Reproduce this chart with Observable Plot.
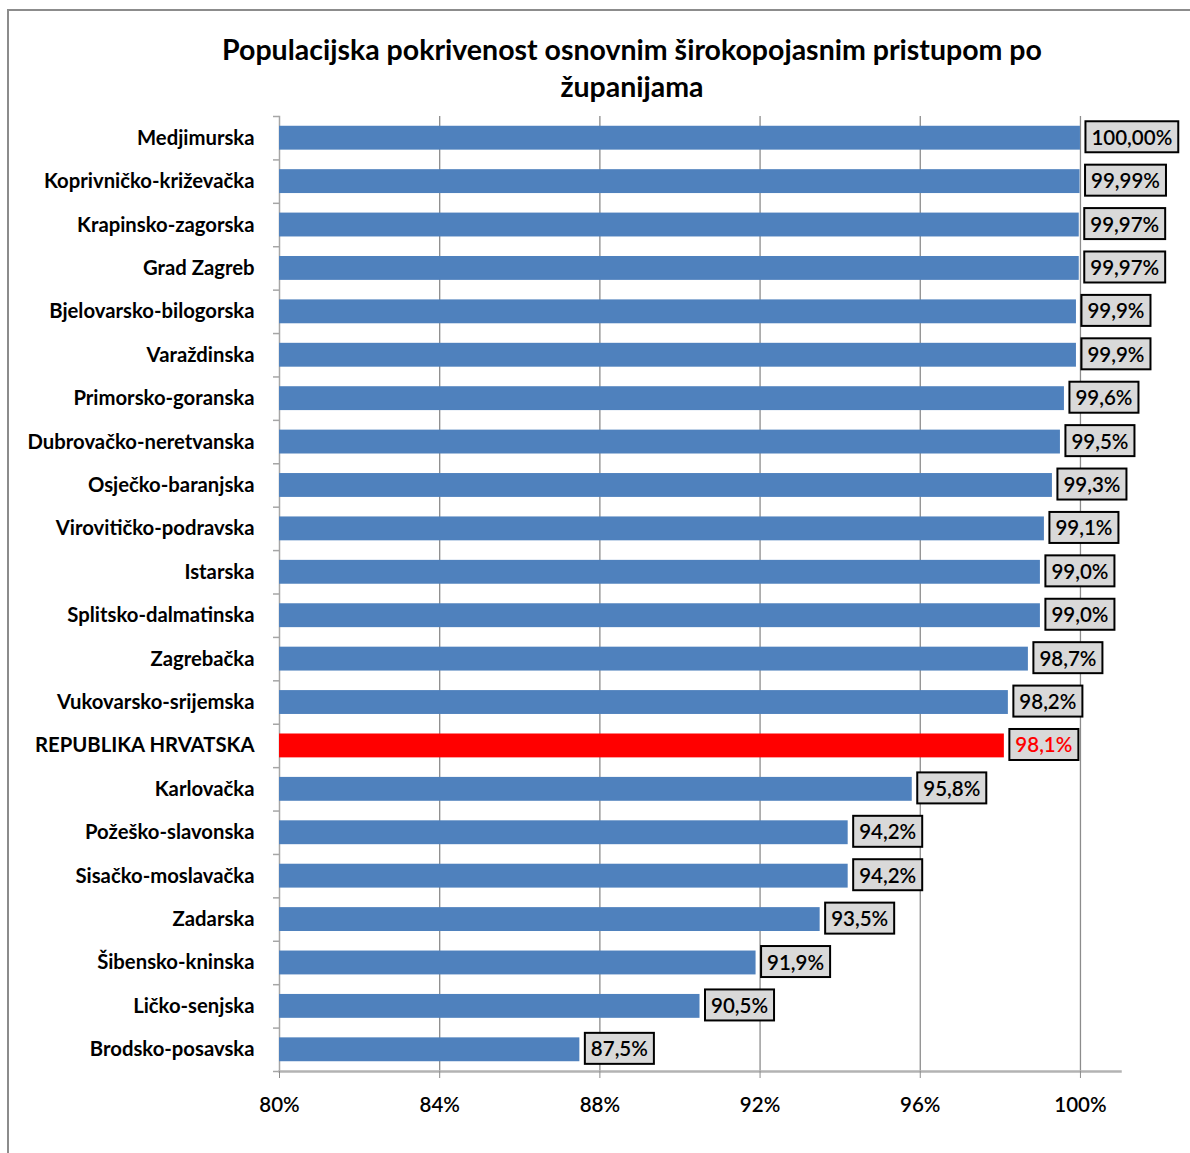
<!DOCTYPE html>
<html><head><meta charset="utf-8">
<script src="https://cdn.jsdelivr.net/npm/d3@7"></script>
<script src="https://cdn.jsdelivr.net/npm/@observablehq/plot@0.6"></script>
<style>
body{margin:0;background:#fff;}
#wrap{position:relative;width:1190px;height:1153px;overflow:hidden;font-family:Lato,"Open Sans",sans-serif;color:#000;}
#border{position:absolute;left:7px;top:9px;width:1300px;height:1300px;border:2px solid #8c8c8c;box-sizing:border-box;}
#title{position:absolute;left:100px;top:31px;width:1064px;text-align:center;font-size:28.5px;font-weight:bold;line-height:37px;}
#chart{position:absolute;left:0;top:0;}
</style></head>
<body>
<div id="wrap">
  <div id="border"></div>
  <div id="chart"></div>
  <div id="title">Populacijska pokrivenost osnovnim širokopojasnim pristupom po<br>županijama</div>
</div>
<script>
const counties = ["Medjimurska","Koprivničko-križevačka","Krapinsko-zagorska","Grad Zagreb","Bjelovarsko-bilogorska","Varaždinska","Primorsko-goranska","Dubrovačko-neretvanska","Osječko-baranjska","Virovitičko-podravska","Istarska","Splitsko-dalmatinska","Zagrebačka","Vukovarsko-srijemska","REPUBLIKA HRVATSKA","Karlovačka","Požeško-slavonska","Sisačko-moslavačka","Zadarska","Šibensko-kninska","Ličko-senjska","Brodsko-posavska"];
const coverage = [100.00,99.99,99.97,99.97,99.9,99.9,99.6,99.5,99.3,99.1,99.0,99.0,98.7,98.2,98.1,95.8,94.2,94.2,93.5,91.9,90.5,87.5];
const valueLabels = ["100,00%","99,99%","99,97%","99,97%","99,9%","99,9%","99,6%","99,5%","99,3%","99,1%","99,0%","99,0%","98,7%","98,2%","98,1%","95,8%","94,2%","94,2%","93,5%","91,9%","90,5%","87,5%"];
const highlight = "REPUBLIKA HRVATSKA";
const xTicks = [80,84,88,92,96,100];
const xDomain = [80,101];

const data = counties.map((c,i)=>({county:c, value:coverage[i], label:valueLabels[i], national:c===highlight}));
const last = data.slice(-1);

const chart = Plot.plot({
  width:1190, height:1153,
  marginLeft:279, marginRight:70, marginTop:116, marginBottom:82,
  style:{fontFamily:"Lato, 'Open Sans', sans-serif", fontSize:"20px", color:"#000", background:"transparent"},
  x:{domain:xDomain, ticks:xTicks, tickFormat:d=>d+"%", label:null},
  y:{domain:counties, paddingInner:0.45, paddingOuter:0.225, round:false, label:null},
  marks:[
    Plot.ruleX(xTicks.slice(1), {stroke:"#8c8c8c", strokeWidth:1.3}),
    Plot.frame({anchor:"left", stroke:"#a6a6a6", strokeWidth:1.5}),
    Plot.ruleY(data, {y:"county", x1:xDomain[0], x2:xDomain[0], insetLeft:-6, dy:-21.7, stroke:"#a6a6a6", strokeWidth:1.5}),
    Plot.ruleY(last, {y:"county", x1:xDomain[0], x2:xDomain[0], insetLeft:-6, dy:21.7, stroke:"#a6a6a6", strokeWidth:1.5}),
    Plot.barX(data, {x1:xDomain[0], x2:"value", y:"county", fill:d=>d.national?"#ff0000":"#4f81bd"}),
    Plot.frame({anchor:"bottom", stroke:"#b3b3b3", strokeWidth:2.5}),
    Plot.axisX({ticks:xTicks, tickSize:7, tickPadding:19, tickFormat:d=>d+"%", stroke:"#8c8c8c", fill:"#000", fontSize:20.5, fontWeight:600, label:null}),
    Plot.axisY({tickSize:0, tickPadding:25, fontWeight:"bold", fill:"#000", fontSize:20.3, label:null}),
    Plot.text(data, {x:"value", y:"county", text:"label", dx:11, textAnchor:"start", fill:d=>d.national?"#ff0000":"#000", fontSize:20.5, fontWeight:600})
  ]
});
document.getElementById("chart").appendChild(chart);

// draw the boxed background behind each value label
chart.querySelectorAll('g[aria-label="text"] text').forEach(t=>{
  const b = t.getBBox();
  const r = document.createElementNS("http://www.w3.org/2000/svg","rect");
  r.setAttribute("x", b.x-6);
  r.setAttribute("y", b.y + b.height/2 - 15.5);
  r.setAttribute("width", b.width+12);
  r.setAttribute("height", 31);
  r.setAttribute("fill", "#d9d9d9");
  r.setAttribute("stroke", "#000");
  r.setAttribute("stroke-width", 2);
  const tr = t.getAttribute("transform");
  if (tr) r.setAttribute("transform", tr);
  t.parentNode.insertBefore(r, t);
});
</script>
</body></html>
